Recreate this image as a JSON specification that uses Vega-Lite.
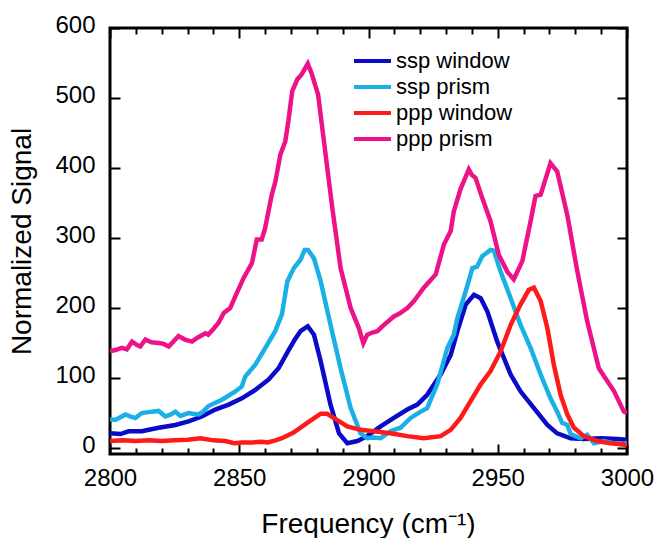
{
  "$schema": "https://vega.github.io/schema/vega-lite/v6.json",
  "width": 517,
  "height": 426,
  "autosize": {"type": "none"},
  "padding": {"left": 110, "top": 28, "right": 28, "bottom": 84},
  "background": "white",
  "config": {
    "font": "Liberation Sans",
    "view": {"stroke": "#000", "strokeWidth": 3},
    "axis": {"grid": false, "domain": false, "tickColor": "#000", "tickWidth": 2, "labelColor": "#000", "titleColor": "#000", "labelFont": "Liberation Sans", "titleFont": "Liberation Sans", "titleFontWeight": "normal"}
  },
  "data": {"values": [
    {"f":2800,"v":21,"s":"ssp window"},{"f":2804,"v":20,"s":"ssp window"},{"f":2807.2,"v":24,"s":"ssp window"},{"f":2812.3,"v":24,"s":"ssp window"},{"f":2818.8,"v":29,"s":"ssp window"},{"f":2825.3,"v":33,"s":"ssp window"},{"f":2830.4,"v":38,"s":"ssp window"},{"f":2835.5,"v":45,"s":"ssp window"},{"f":2840.7,"v":55,"s":"ssp window"},{"f":2845.9,"v":62,"s":"ssp window"},{"f":2851,"v":71,"s":"ssp window"},{"f":2856.2,"v":83,"s":"ssp window"},{"f":2861.4,"v":98,"s":"ssp window"},{"f":2865.2,"v":114,"s":"ssp window"},{"f":2869.1,"v":140,"s":"ssp window"},{"f":2871.5,"v":155,"s":"ssp window"},{"f":2873.7,"v":167,"s":"ssp window"},{"f":2876.5,"v":174,"s":"ssp window"},{"f":2878.9,"v":162,"s":"ssp window"},{"f":2881.5,"v":124,"s":"ssp window"},{"f":2885.3,"v":62,"s":"ssp window"},{"f":2888.6,"v":21,"s":"ssp window"},{"f":2891.8,"v":7,"s":"ssp window"},{"f":2895.7,"v":10,"s":"ssp window"},{"f":2899.5,"v":17,"s":"ssp window"},{"f":2904.7,"v":31,"s":"ssp window"},{"f":2909.8,"v":43,"s":"ssp window"},{"f":2915,"v":55,"s":"ssp window"},{"f":2918.9,"v":62,"s":"ssp window"},{"f":2922.7,"v":76,"s":"ssp window"},{"f":2927.9,"v":105,"s":"ssp window"},{"f":2931.8,"v":133,"s":"ssp window"},{"f":2934.4,"v":167,"s":"ssp window"},{"f":2937.6,"v":205,"s":"ssp window"},{"f":2940.8,"v":219,"s":"ssp window"},{"f":2943.4,"v":214,"s":"ssp window"},{"f":2946,"v":195,"s":"ssp window"},{"f":2949.8,"v":152,"s":"ssp window"},{"f":2955,"v":105,"s":"ssp window"},{"f":2958.8,"v":81,"s":"ssp window"},{"f":2964,"v":57,"s":"ssp window"},{"f":2969.2,"v":33,"s":"ssp window"},{"f":2973,"v":21,"s":"ssp window"},{"f":2978.2,"v":14,"s":"ssp window"},{"f":2983.3,"v":13,"s":"ssp window"},{"f":2989.8,"v":14,"s":"ssp window"},{"f":2996.3,"v":13,"s":"ssp window"},{"f":3000,"v":12,"s":"ssp window"},

    {"f":2800,"v":41,"s":"ssp prism"},{"f":2802,"v":40,"s":"ssp prism"},{"f":2804,"v":44,"s":"ssp prism"},{"f":2806,"v":48,"s":"ssp prism"},{"f":2808,"v":45,"s":"ssp prism"},{"f":2809.8,"v":43,"s":"ssp prism"},{"f":2812.3,"v":50,"s":"ssp prism"},{"f":2816.2,"v":52,"s":"ssp prism"},{"f":2818.8,"v":53,"s":"ssp prism"},{"f":2821.4,"v":45,"s":"ssp prism"},{"f":2823.5,"v":48,"s":"ssp prism"},{"f":2825.3,"v":52,"s":"ssp prism"},{"f":2827.2,"v":46,"s":"ssp prism"},{"f":2830.4,"v":50,"s":"ssp prism"},{"f":2832,"v":49,"s":"ssp prism"},{"f":2834.3,"v":48,"s":"ssp prism"},{"f":2836,"v":52,"s":"ssp prism"},{"f":2838.1,"v":60,"s":"ssp prism"},{"f":2843.3,"v":69,"s":"ssp prism"},{"f":2848.5,"v":81,"s":"ssp prism"},{"f":2851,"v":88,"s":"ssp prism"},{"f":2852.3,"v":102,"s":"ssp prism"},{"f":2856.2,"v":119,"s":"ssp prism"},{"f":2860.1,"v":143,"s":"ssp prism"},{"f":2863.9,"v":167,"s":"ssp prism"},{"f":2866.5,"v":191,"s":"ssp prism"},{"f":2868.6,"v":238,"s":"ssp prism"},{"f":2871.1,"v":257,"s":"ssp prism"},{"f":2873.7,"v":269,"s":"ssp prism"},{"f":2875.3,"v":283,"s":"ssp prism"},{"f":2876.6,"v":283,"s":"ssp prism"},{"f":2878.9,"v":271,"s":"ssp prism"},{"f":2881.5,"v":238,"s":"ssp prism"},{"f":2885.3,"v":176,"s":"ssp prism"},{"f":2889.2,"v":114,"s":"ssp prism"},{"f":2893.1,"v":57,"s":"ssp prism"},{"f":2896.9,"v":21,"s":"ssp prism"},{"f":2899.5,"v":14,"s":"ssp prism"},{"f":2902,"v":15,"s":"ssp prism"},{"f":2904.7,"v":14,"s":"ssp prism"},{"f":2908.5,"v":24,"s":"ssp prism"},{"f":2912.4,"v":29,"s":"ssp prism"},{"f":2916.3,"v":43,"s":"ssp prism"},{"f":2920.2,"v":52,"s":"ssp prism"},{"f":2922.7,"v":57,"s":"ssp prism"},{"f":2926.6,"v":91,"s":"ssp prism"},{"f":2930.5,"v":143,"s":"ssp prism"},{"f":2933,"v":162,"s":"ssp prism"},{"f":2934.4,"v":186,"s":"ssp prism"},{"f":2935.6,"v":200,"s":"ssp prism"},{"f":2937.6,"v":224,"s":"ssp prism"},{"f":2940.2,"v":257,"s":"ssp prism"},{"f":2942,"v":259,"s":"ssp prism"},{"f":2944,"v":274,"s":"ssp prism"},{"f":2947.2,"v":283,"s":"ssp prism"},{"f":2948.5,"v":282,"s":"ssp prism"},{"f":2951.1,"v":252,"s":"ssp prism"},{"f":2955,"v":214,"s":"ssp prism"},{"f":2958.8,"v":176,"s":"ssp prism"},{"f":2962.7,"v":143,"s":"ssp prism"},{"f":2966.6,"v":105,"s":"ssp prism"},{"f":2970.4,"v":71,"s":"ssp prism"},{"f":2973,"v":52,"s":"ssp prism"},{"f":2974.9,"v":36,"s":"ssp prism"},{"f":2976.9,"v":33,"s":"ssp prism"},{"f":2978.2,"v":20,"s":"ssp prism"},{"f":2982,"v":14,"s":"ssp prism"},{"f":2984.6,"v":19,"s":"ssp prism"},{"f":2987.2,"v":7,"s":"ssp prism"},{"f":2991,"v":10,"s":"ssp prism"},{"f":2994.9,"v":7,"s":"ssp prism"},{"f":2998.8,"v":5,"s":"ssp prism"},{"f":3000,"v":8,"s":"ssp prism"},

    {"f":2800,"v":10,"s":"ppp window"},{"f":2805,"v":11,"s":"ppp window"},{"f":2810,"v":10,"s":"ppp window"},{"f":2815,"v":11,"s":"ppp window"},{"f":2820,"v":10,"s":"ppp window"},{"f":2825,"v":11,"s":"ppp window"},{"f":2830,"v":12,"s":"ppp window"},{"f":2835,"v":14,"s":"ppp window"},{"f":2840,"v":11,"s":"ppp window"},{"f":2844.6,"v":10,"s":"ppp window"},{"f":2848,"v":7,"s":"ppp window"},{"f":2851,"v":8,"s":"ppp window"},{"f":2855,"v":8,"s":"ppp window"},{"f":2858.7,"v":9,"s":"ppp window"},{"f":2861,"v":8,"s":"ppp window"},{"f":2864,"v":11,"s":"ppp window"},{"f":2866.5,"v":14,"s":"ppp window"},{"f":2871,"v":22,"s":"ppp window"},{"f":2876.3,"v":36,"s":"ppp window"},{"f":2881.5,"v":49,"s":"ppp window"},{"f":2884,"v":49,"s":"ppp window"},{"f":2887.9,"v":40,"s":"ppp window"},{"f":2891.8,"v":31,"s":"ppp window"},{"f":2896.9,"v":26,"s":"ppp window"},{"f":2902,"v":24,"s":"ppp window"},{"f":2908.5,"v":21,"s":"ppp window"},{"f":2915,"v":17,"s":"ppp window"},{"f":2921.4,"v":14,"s":"ppp window"},{"f":2927.9,"v":17,"s":"ppp window"},{"f":2931.8,"v":26,"s":"ppp window"},{"f":2935.6,"v":43,"s":"ppp window"},{"f":2939.5,"v":67,"s":"ppp window"},{"f":2943.4,"v":91,"s":"ppp window"},{"f":2947.2,"v":110,"s":"ppp window"},{"f":2951.1,"v":138,"s":"ppp window"},{"f":2955,"v":176,"s":"ppp window"},{"f":2958.8,"v":205,"s":"ppp window"},{"f":2962,"v":226,"s":"ppp window"},{"f":2964,"v":229,"s":"ppp window"},{"f":2966.6,"v":210,"s":"ppp window"},{"f":2969.2,"v":171,"s":"ppp window"},{"f":2971.7,"v":119,"s":"ppp window"},{"f":2974.3,"v":76,"s":"ppp window"},{"f":2976.9,"v":48,"s":"ppp window"},{"f":2979.5,"v":29,"s":"ppp window"},{"f":2983.3,"v":17,"s":"ppp window"},{"f":2988.5,"v":10,"s":"ppp window"},{"f":2993.6,"v":7,"s":"ppp window"},{"f":2998.8,"v":5,"s":"ppp window"},{"f":3000,"v":4,"s":"ppp window"},

    {"f":2800,"v":138,"s":"ppp prism"},{"f":2802,"v":140,"s":"ppp prism"},{"f":2804.6,"v":143,"s":"ppp prism"},{"f":2806.5,"v":141,"s":"ppp prism"},{"f":2808.5,"v":152,"s":"ppp prism"},{"f":2810.5,"v":147,"s":"ppp prism"},{"f":2811.7,"v":145,"s":"ppp prism"},{"f":2813.7,"v":155,"s":"ppp prism"},{"f":2816,"v":151,"s":"ppp prism"},{"f":2818.8,"v":150,"s":"ppp prism"},{"f":2820.5,"v":149,"s":"ppp prism"},{"f":2822.7,"v":145,"s":"ppp prism"},{"f":2824.5,"v":152,"s":"ppp prism"},{"f":2826.5,"v":160,"s":"ppp prism"},{"f":2829,"v":155,"s":"ppp prism"},{"f":2831.7,"v":152,"s":"ppp prism"},{"f":2834,"v":158,"s":"ppp prism"},{"f":2836.9,"v":164,"s":"ppp prism"},{"f":2838,"v":162,"s":"ppp prism"},{"f":2840,"v":170,"s":"ppp prism"},{"f":2842,"v":179,"s":"ppp prism"},{"f":2844,"v":193,"s":"ppp prism"},{"f":2846.5,"v":200,"s":"ppp prism"},{"f":2848.5,"v":217,"s":"ppp prism"},{"f":2851.7,"v":243,"s":"ppp prism"},{"f":2854.9,"v":264,"s":"ppp prism"},{"f":2856.8,"v":298,"s":"ppp prism"},{"f":2858.7,"v":298,"s":"ppp prism"},{"f":2860,"v":314,"s":"ppp prism"},{"f":2862.6,"v":362,"s":"ppp prism"},{"f":2864,"v":381,"s":"ppp prism"},{"f":2865.9,"v":419,"s":"ppp prism"},{"f":2867.8,"v":438,"s":"ppp prism"},{"f":2869,"v":467,"s":"ppp prism"},{"f":2870.5,"v":510,"s":"ppp prism"},{"f":2872.5,"v":527,"s":"ppp prism"},{"f":2874,"v":533,"s":"ppp prism"},{"f":2876.5,"v":549,"s":"ppp prism"},{"f":2878,"v":535,"s":"ppp prism"},{"f":2879.5,"v":517,"s":"ppp prism"},{"f":2880.5,"v":505,"s":"ppp prism"},{"f":2882.7,"v":440,"s":"ppp prism"},{"f":2886,"v":343,"s":"ppp prism"},{"f":2889.2,"v":257,"s":"ppp prism"},{"f":2893.1,"v":200,"s":"ppp prism"},{"f":2896.3,"v":171,"s":"ppp prism"},{"f":2898,"v":150,"s":"ppp prism"},{"f":2899.5,"v":162,"s":"ppp prism"},{"f":2901.5,"v":165,"s":"ppp prism"},{"f":2903.4,"v":167,"s":"ppp prism"},{"f":2906,"v":176,"s":"ppp prism"},{"f":2909.8,"v":188,"s":"ppp prism"},{"f":2912,"v":192,"s":"ppp prism"},{"f":2915,"v":200,"s":"ppp prism"},{"f":2917.6,"v":210,"s":"ppp prism"},{"f":2921.4,"v":229,"s":"ppp prism"},{"f":2926,"v":248,"s":"ppp prism"},{"f":2929.2,"v":291,"s":"ppp prism"},{"f":2931.8,"v":310,"s":"ppp prism"},{"f":2933,"v":338,"s":"ppp prism"},{"f":2935.6,"v":370,"s":"ppp prism"},{"f":2938.8,"v":398,"s":"ppp prism"},{"f":2940,"v":390,"s":"ppp prism"},{"f":2941.4,"v":386,"s":"ppp prism"},{"f":2944,"v":357,"s":"ppp prism"},{"f":2947.2,"v":324,"s":"ppp prism"},{"f":2950.4,"v":276,"s":"ppp prism"},{"f":2953.7,"v":252,"s":"ppp prism"},{"f":2956.2,"v":241,"s":"ppp prism"},{"f":2959.5,"v":267,"s":"ppp prism"},{"f":2962.7,"v":324,"s":"ppp prism"},{"f":2964.6,"v":360,"s":"ppp prism"},{"f":2966.6,"v":362,"s":"ppp prism"},{"f":2970.4,"v":407,"s":"ppp prism"},{"f":2973,"v":395,"s":"ppp prism"},{"f":2976.9,"v":333,"s":"ppp prism"},{"f":2980.8,"v":252,"s":"ppp prism"},{"f":2984.6,"v":181,"s":"ppp prism"},{"f":2989.1,"v":114,"s":"ppp prism"},{"f":2995,"v":81,"s":"ppp prism"},{"f":2998.8,"v":52,"s":"ppp prism"},{"f":3000,"v":50,"s":"ppp prism"}
  ]},
  "layer": [
    {
      "mark": {"type": "line", "strokeWidth": 4.5, "clip": true},
      "encoding": {
        "x": {"field": "f", "type": "quantitative", "scale": {"domain": [2800, 3000], "nice": false, "zero": false},
          "axis": {"orient": "bottom", "values": [2800,2810,2820,2830,2840,2850,2860,2870,2880,2890,2900,2910,2920,2930,2940,2950,2960,2970,2980,2990,3000],
            "tickSize": {"condition": {"test": "datum.value % 50 === 0", "value": -10}, "value": -6},
            "labelExpr": "datum.value % 50 === 0 ? datum.label : ''", "format": "d",
            "labelFontSize": 24, "labelPadding": 22, "labelFlush": false,
            "title": "Frequency (cm⁻¹)", "titleFontSize": 28, "titleX": 258, "titleY": 70, "titleBaseline": "middle", "titleAlign": "center"}},
        "y": {"field": "v", "type": "quantitative", "scale": {"domain": [-8.5, 600], "nice": false, "zero": false},
          "axis": {"orient": "left", "values": [0,100,200,300,400,500,600], "tickSize": -10, "labelFontSize": 24, "labelPadding": 25, "labelFlush": false, "labelOffset": -3,
            "title": "Normalized Signal", "titleFontSize": 28, "titleX": -88, "titleY": 213, "titleAngle": -90, "titleBaseline": "middle", "titleAlign": "center"}},
        "color": {"field": "s", "type": "nominal",
          "scale": {"domain": ["ssp window", "ssp prism", "ppp window", "ppp prism"], "range": ["#0a0ac8", "#1ab0e6", "#ff1a1a", "#ee1289"]},
          "legend": {"title": null, "orient": "none", "legendX": 242, "legendY": 20, "symbolType": "stroke", "symbolSize": 1369, "symbolStrokeWidth": 4, "labelFontSize": 22, "labelFont": "Liberation Sans", "labelColor": "#000", "labelOffset": 3, "rowPadding": 0, "padding": 0, "clipHeight": 26}}
      }
    },
    {
      "mark": {"type": "point", "opacity": 0},
      "encoding": {
        "x": {"field": "f", "type": "quantitative",
          "axis": {"orient": "top", "values": [2800,2810,2820,2830,2840,2850,2860,2870,2880,2890,2900,2910,2920,2930,2940,2950,2960,2970,2980,2990,3000],
            "tickSize": {"condition": {"test": "datum.value % 50 === 0", "value": -10}, "value": -6}, "labels": false, "title": null}},
        "y": {"field": "v", "type": "quantitative",
          "axis": {"orient": "right", "values": [0,100,200,300,400,500,600], "tickSize": -10, "labels": false, "title": null}}
      }
    }
  ]
}
